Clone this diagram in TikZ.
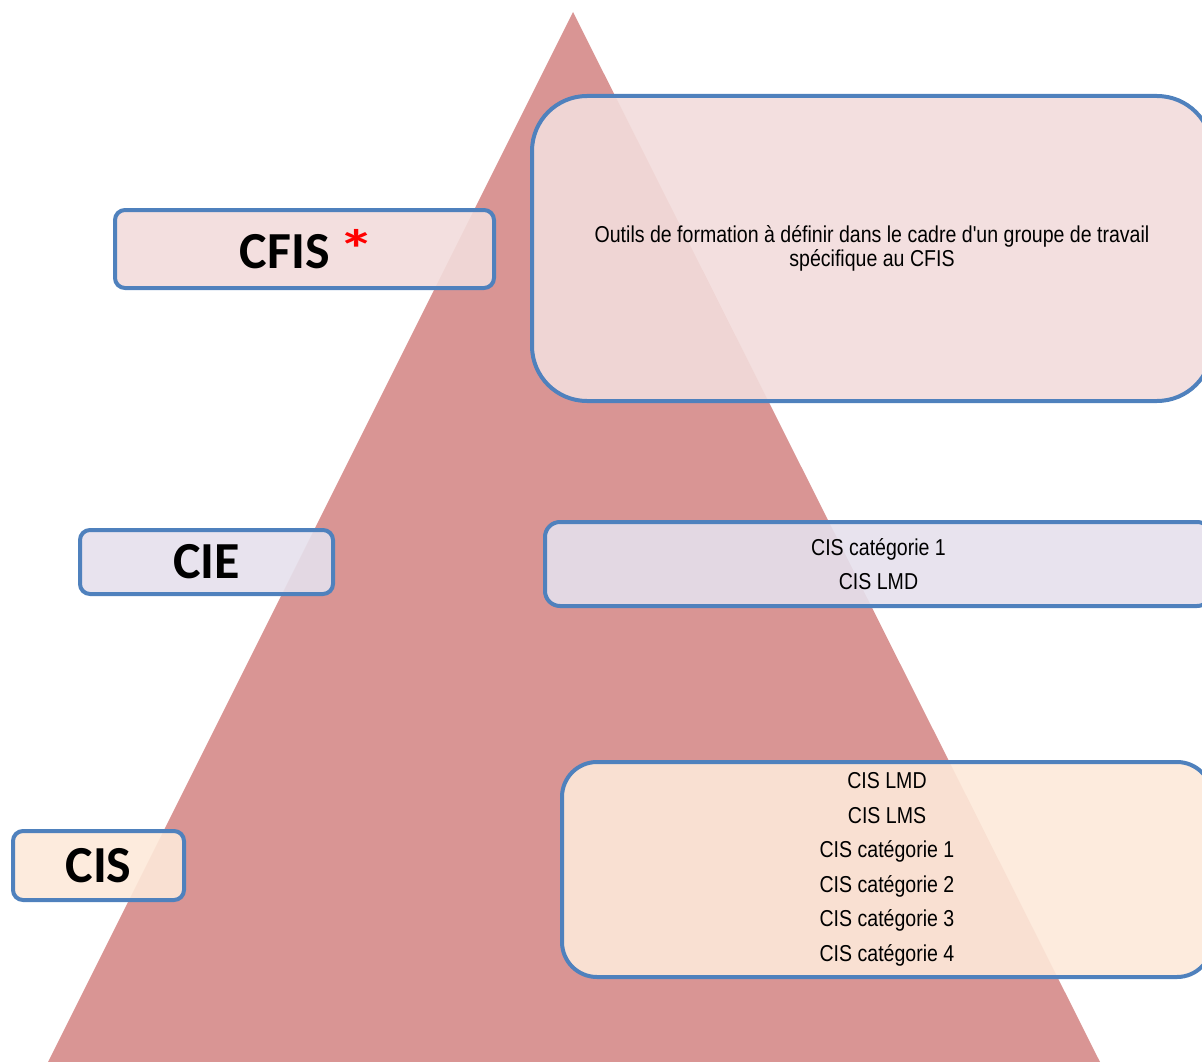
\documentclass[tikz,border=0pt]{standalone}
\usepackage{fontspec}
\setmainfont{Carlito}
\newfontfamily\narrowfont{Liberation Sans}[FakeStretch=0.85]
\definecolor{tri}{HTML}{D99594}
\definecolor{edge}{HTML}{4F81BD}
\definecolor{pinkfill}{HTML}{F2DCDB}
\definecolor{lavfill}{HTML}{E5E0EC}
\definecolor{peachfill}{HTML}{FDE9D9}
\tikzset{
  box/.style={draw=edge, line width=4pt, fill opacity=0.9, text opacity=1,
    inner sep=0pt, rectangle},
  lbl/.style={box, rounded corners=10pt, font=\bfseries\fontsize{52}{60}\selectfont},
  desc/.style={box, align=center, font=\narrowfont\fontsize{23}{34.5}\selectfont},
}
\begin{document}
\begin{tikzpicture}[x=1pt,y=-1pt]
\useasboundingbox (0,0) rectangle (1202,1062);
\clip (0,0) rectangle (1202,1062);
% pyramid
\fill[tri] (573,12) -- (1100,1062) -- (48,1062) -- cycle;
% left labels
\node[lbl, fill=pinkfill, minimum width=379pt, minimum height=78pt] (cfis) at (304.5,249) {};
\node[font=\bfseries\fontsize{52}{60}\selectfont, inner sep=0pt] (cfist) at (307.5,249) {CFIS\hspace{9pt}{\color{red}\scalebox{1.4}[1.05]{*}}};
\node[lbl, fill=lavfill, minimum width=253pt, minimum height=64pt] (cie) at (206.5,562) {CIE};
\node[lbl, fill=peachfill, minimum width=171pt, minimum height=69pt] (cis) at (98.5,865.5) {CIS};
% right descriptions
\node[desc, fill=pinkfill, rounded corners=55pt, minimum width=680pt, minimum height=305pt,
  font=\narrowfont\fontsize{23}{24}\selectfont] (dcfis) at (872,248.5)
  {Outils de formation à définir dans le cadre d'un groupe de travail\\spécifique au CFIS};
\node[desc, fill=lavfill, rounded corners=15pt, minimum width=667pt, minimum height=84pt] (dcie) at (878.5,564)
  {CIS catégorie 1\\CIS LMD};
\node[desc, fill=peachfill, rounded corners=35pt, minimum width=650pt, minimum height=215pt] (dcis) at (887,869.5)
  {CIS LMD\\CIS LMS\\CIS catégorie 1\\CIS catégorie 2\\CIS catégorie 3\\CIS catégorie 4};
\end{tikzpicture}
\end{document}
